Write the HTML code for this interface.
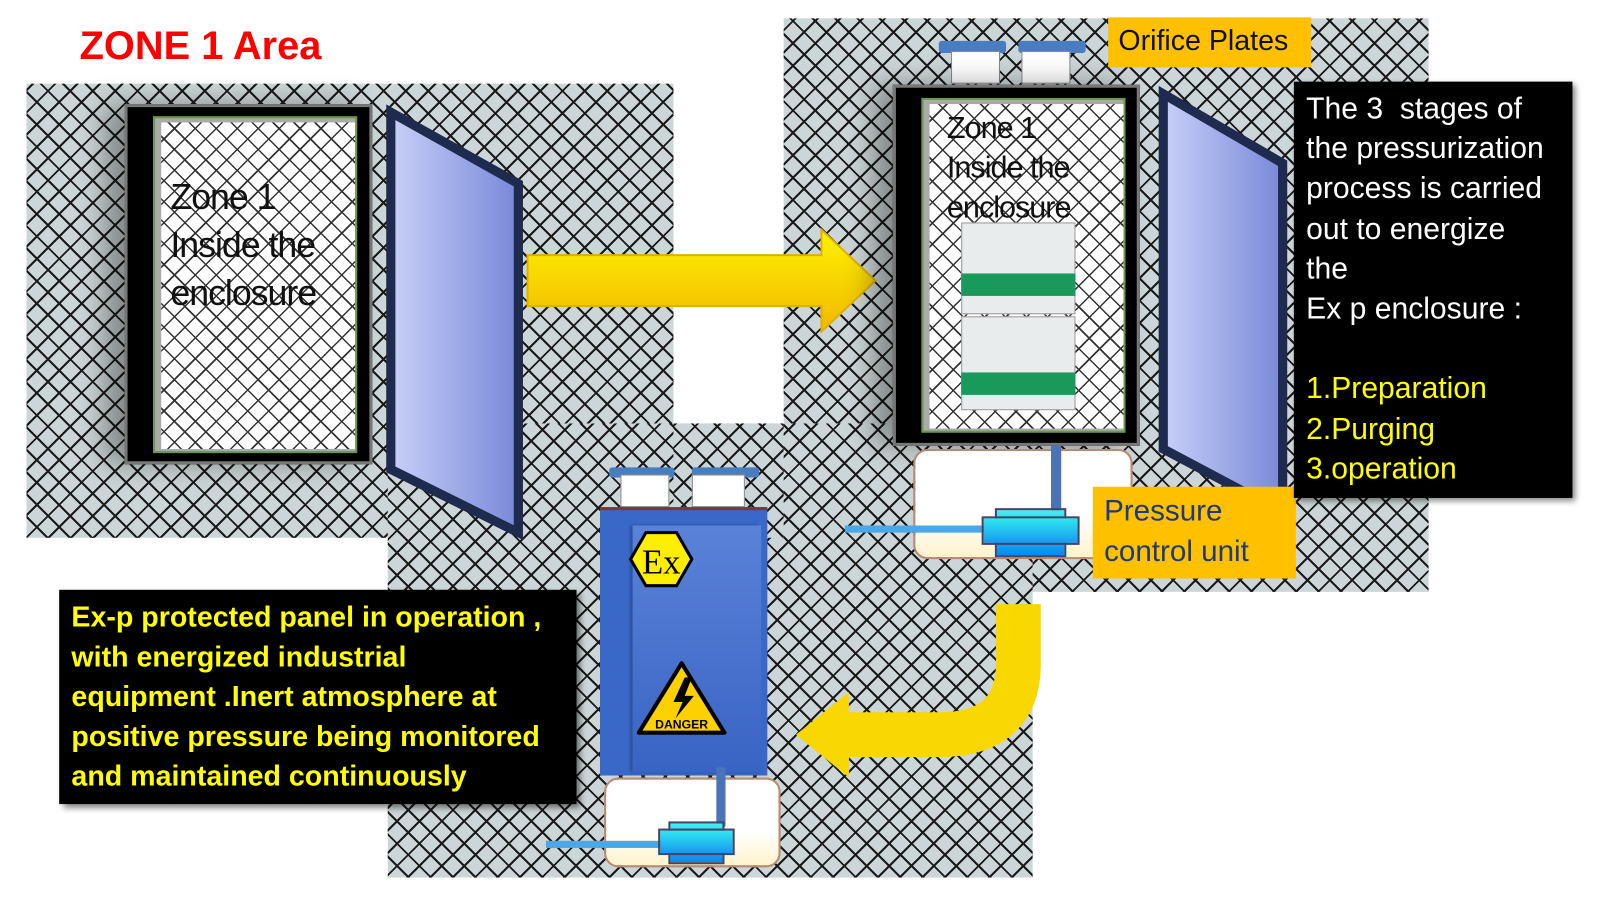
<!DOCTYPE html>
<html><head><meta charset="utf-8"><style>
*{margin:0;padding:0;box-sizing:border-box}
body{width:1600px;height:900px;background:#fff;position:relative;overflow:hidden;font-family:"Liberation Sans",Calibri,sans-serif}
#w{position:absolute;left:0;top:0;width:1568px;height:882px;transform:scale(1.0204);transform-origin:0 0}
.a{position:absolute}
.h{background-color:#ccd5d7;background-image:repeating-linear-gradient(45deg,transparent 0 13.5px,#1a1a1a 13.5px 15.5px),repeating-linear-gradient(-45deg,transparent 0 13.5px,#1a1a1a 13.5px 15.5px)}
.hw{background-color:#fff;background-image:repeating-linear-gradient(45deg,transparent 0 13px,#333 13px 14.5px),repeating-linear-gradient(-45deg,transparent 0 13px,#333 13px 14.5px)}
</style></head><body><div id="w">
<div class="a h" style="left:26px;top:82px;width:634px;height:445px"></div>
<div class="a h" style="left:768px;top:18px;width:632px;height:562px"></div>
<div class="a h" style="left:380px;top:415px;width:632px;height:445px"></div>
<div class="a h" style="left:660px;top:415px;width:108px;height:112px"></div>

<div class="a" style="left:78px;top:24px;color:#ff0000;font-weight:bold;font-size:39px">ZONE 1 Area</div>

<div class="a" style="left:122px;top:102px;width:243px;height:353px;background:#000;border:3px solid #777;box-shadow:-20px 0 25px rgba(0,0,0,.35)"></div>
<div class="a" style="left:150px;top:114px;width:200px;height:330px;border:2px solid #6a9a4a;background:#aaa;padding:4px 0 0 6px"><div class="hw" style="width:190px;height:320px"></div></div>
<div class="a" style="left:167px;top:170px;font-size:35px;line-height:47px;color:#111;letter-spacing:-1px">Zone 1<br>Inside the<br>enclosure</div>
<svg class="a" style="left:0;top:0" width="1600" height="900">
<defs><linearGradient id="dg" x1="0" x2="1"><stop offset="0" stop-color="#c8d0f8"/><stop offset="1" stop-color="#7888d8"/></linearGradient>
<linearGradient id="yg" x1="0" y1="0" x2="0" y2="1"><stop offset="0" stop-color="#fff200"/><stop offset="1" stop-color="#f0b800"/></linearGradient></defs>
<polygon points="383,110 508,180 508,522 383,460" fill="url(#dg)" stroke="#1e2b4e" stroke-width="9"/>
<polygon points="1140,92 1257,160 1257,502 1140,440" fill="url(#dg)" stroke="#1e2b4e" stroke-width="9"/>
<polygon points="517,250 805,250 805,225 858,275 805,325 805,300 517,300" fill="url(#yg)" stroke="#e0b000" stroke-width="2"/>
<path d="M998 592 V650 Q998 720 920 720 H830" fill="none" stroke="#f8d800" stroke-width="44"/>
<polygon points="832,678 832,762 780,720" fill="#f8d800"/>
</svg>

<div class="a" style="left:920px;top:40px;width:66px;height:12px;background:#4a7cc0;border-radius:3px"></div>
<div class="a" style="left:998px;top:40px;width:66px;height:12px;background:#4a7cc0;border-radius:3px"></div>
<div class="a" style="left:932px;top:50px;width:48px;height:32px;background:#fff;border:1px solid #888"></div>
<div class="a" style="left:1001px;top:50px;width:48px;height:32px;background:#fff;border:1px solid #888"></div>
<div class="a" style="left:875px;top:83px;width:242px;height:354px;background:#000;border:3px solid #777;box-shadow:-20px 0 25px rgba(0,0,0,.35)"></div>
<div class="a" style="left:903px;top:96px;width:200px;height:328px;border:2px solid #6a9a4a;background:#aaa;padding:4px 0 0 6px"><div class="hw" style="width:190px;height:318px"></div></div>
<div class="a" style="left:928px;top:106px;font-size:30px;line-height:39px;color:#111;letter-spacing:-1px">Zone 1<br>Inside the<br>enclosure</div>
<div class="a" style="left:942px;top:218px;width:112px;height:90px;background:#e8ecec;border:1px solid #999"></div>
<div class="a" style="left:942px;top:268px;width:112px;height:22px;background:#1a9a5a"></div>
<div class="a" style="left:942px;top:310px;width:112px;height:92px;background:#e8ecec;border:1px solid #999"></div>
<div class="a" style="left:942px;top:365px;width:112px;height:22px;background:#1a9a5a"></div>
<div class="a" style="left:1086px;top:17px;width:199px;height:49px;background:#ffc000;font-size:28px;padding:7px 0 0 10px;color:#111;white-space:nowrap">Orifice Plates</div>
<div class="a" style="left:895px;top:440px;width:215px;height:108px;background:linear-gradient(#fff 60%,#fff3cc);border:2px solid #b88a70;border-radius:14px"></div>
<div class="a" style="left:1030px;top:437px;width:10px;height:65px;background:#4a74b8"></div>
<div class="a" style="left:828px;top:515px;width:140px;height:7px;background:#4aa8e8"></div>
<div class="a" style="left:975px;top:498px;width:70px;height:48px;background:linear-gradient(#40f0f0,#0a88f0);border:2px solid #446"></div>
<div class="a" style="left:962px;top:506px;width:96px;height:28px;background:linear-gradient(#30e8f0,#1898f0);border:2px solid #446"></div>
<div class="a" style="left:1071px;top:477px;width:199px;height:90px;background:#ffc000;font-size:29px;line-height:40px;padding:4px 0 0 11px;color:#1f3a78">Pressure<br>control unit</div>
<div class="a" style="left:1268px;top:80px;width:273px;height:408px;background:#000;box-shadow:3px 3px 6px rgba(0,0,0,.5);color:#fff;font-size:29.5px;line-height:39.2px;padding:7px 0 0 12px;white-space:nowrap">The 3&nbsp; stages of<br>the pressurization<br>process is carried<br>out to energize<br>the<br>Ex p enclosure :<br><br><span style="color:#ffff00">1.Preparation<br>2.Purging<br>3.operation</span></div>

<div class="a" style="left:597px;top:458px;width:64px;height:10px;background:#4a7cc0;border-radius:3px"></div>
<div class="a" style="left:678px;top:458px;width:66px;height:10px;background:#4a7cc0;border-radius:3px"></div>
<div class="a" style="left:608px;top:465px;width:48px;height:32px;background:#fff;border:1px solid #888"></div>
<div class="a" style="left:678px;top:465px;width:52px;height:32px;background:#fff;border:1px solid #888"></div>
<div class="a" style="left:588px;top:497px;width:164px;height:263px;background:#3a68c8;border-top:3px solid #7a3a2a"></div>
<div class="a" style="left:620px;top:515px;width:126px;height:242px;background:linear-gradient(#5a82d8,#3a64c4);box-shadow:-2px 0 3px rgba(0,0,0,.3)"></div>
<svg class="a" style="left:0;top:0" width="1600" height="900">
<polygon points="618,548 633,522 663,522 678,548 663,574 633,574" fill="#ffee00" stroke="#000" stroke-width="3"/>
<text x="648" y="562" font-family="Liberation Serif,serif" font-size="34" text-anchor="middle" fill="#000">Ex</text>
<polygon points="668,650 710,718 626,718" fill="#fdd000" stroke="#000" stroke-width="4" stroke-linejoin="round"/>
<polygon points="671,664 660,688 669,688 662,704 680,682 671,682 678,664" fill="#000"/>
<text x="668" y="714" font-family="Liberation Sans,sans-serif" font-size="12" font-weight="bold" text-anchor="middle">DANGER</text>
</svg>
<div class="a" style="left:592px;top:762px;width:173px;height:88px;background:linear-gradient(#fff 60%,#fff3cc);border:2px solid #b88a70;border-radius:14px"></div>
<div class="a" style="left:702px;top:752px;width:9px;height:58px;background:#4a74b8"></div>
<div class="a" style="left:535px;top:824px;width:120px;height:7px;background:#4aa8e8"></div>
<div class="a" style="left:655px;top:805px;width:55px;height:42px;background:linear-gradient(#40f0f0,#0a88f0);border:2px solid #446"></div>
<div class="a" style="left:645px;top:812px;width:75px;height:26px;background:linear-gradient(#30e8f0,#1898f0);border:2px solid #446"></div>

<div class="a" style="left:58px;top:578px;width:507px;height:210px;background:#000;box-shadow:4px 4px 6px rgba(0,0,0,.5);color:#ffff00;font-weight:bold;font-size:28px;line-height:39px;padding:7px 0 0 12px;white-space:nowrap">Ex-p protected panel in operation ,<br>with energized industrial<br>equipment .Inert atmosphere at<br>positive pressure being monitored<br>and maintained continuously</div>
</div></body></html>
